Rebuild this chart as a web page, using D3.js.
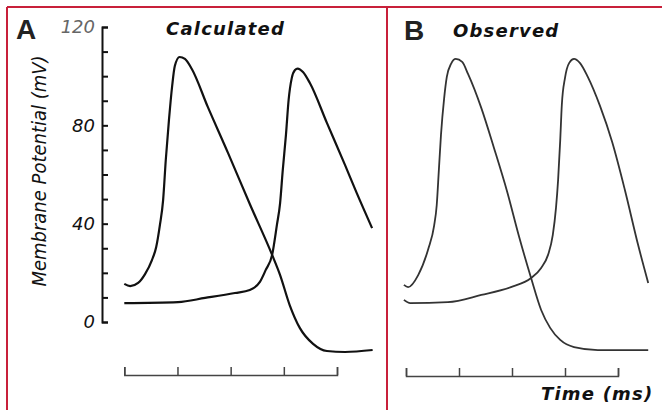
<!DOCTYPE html>
<html>
<head>
<meta charset="utf-8">
<script src="https://cdn.jsdelivr.net/npm/d3@7"></script>
</head>
<body style="margin:0">
<svg></svg>
<script>
let width = 662,
  height = 410;

// membrane potential traces, time in ms, potential in mV
let calcTime1 = [0, 0.11, 0.26, 0.39, 0.52, 0.6, 0.67, 0.73, 0.78, 0.84, 0.9, 0.95, 1.04, 1.14, 1.27, 1.57, 1.95, 2.36, 2.78, 2.93, 3.11, 3.3, 3.55, 3.81, 4.15, 4.67];
let calcV1 = [15.5, 14.6, 15.9, 19.5, 25.2, 30.5, 39.5, 49.6, 65.9, 82.2, 96, 104.1, 107.8, 107, 102.9, 87.5, 68.8, 48, 27.3, 19.1, 6.9, -2.4, -8.9, -11.8, -12.2, -11.4];

let calcTime2 = [0, 1.01, 1.52, 2.08, 2.36, 2.55, 2.66, 2.78, 2.87, 2.93, 2.98, 3.04, 3.09, 3.15, 3.21, 3.26, 3.36, 3.49, 3.81, 4.15, 4.37, 4.66];
let calcV2 = [7.7, 8.1, 9.8, 11.8, 13, 16.3, 21.2, 27.3, 39.5, 48.4, 61.8, 76.1, 90.3, 99.3, 102.5, 103.1, 101.7, 97.2, 81, 63.9, 52.5, 38.2];

let obsTime1 = [-0.04, 0.04, 0.23, 0.42, 0.53, 0.58, 0.62, 0.66, 0.72, 0.77, 0.85, 0.94, 1.06, 1.17, 1.42, 1.66, 1.91, 2.13, 2.36, 2.55, 2.72, 2.91, 3.17, 3.62, 4.57];
let obsV1 = [15.1, 14.2, 19.1, 29.7, 39.1, 47.6, 61.8, 76.1, 91.1, 99.7, 105, 107, 105.8, 100.9, 87.1, 70.8, 52.9, 35, 17.9, 4.9, -2.4, -7.3, -10.2, -11.4, -11.4];

let obsTime2 = [-0.04, 0.08, 0.79, 1.42, 1.98, 2.36, 2.55, 2.68, 2.77, 2.83, 2.87, 2.91, 2.94, 3.0, 3.08, 3.17, 3.28, 3.43, 3.66, 3.89, 4.13, 4.38, 4.57];
let obsV2 = [9, 7.7, 8.1, 11, 14.2, 17.9, 22, 27.3, 35.4, 46.4, 57.8, 74, 88.3, 99.3, 105.4, 107, 105.4, 99.7, 87.9, 73.2, 53.7, 31.3, 15.9];

let timeTicks = [0, 1, 2, 3, 4];
let voltTicks = d3.range(0, 121, 10);
let voltLabels = [0, 40, 80, 120];

let svg = d3.select("svg").attr("width", width).attr("height", height);

let yScale = d3.scaleLinear().domain([0, 120]).range([322, 27]);
let xA = d3.scaleLinear().domain([0, 4]).range([124.3, 337]);
let xB = d3.scaleLinear().domain([0, 4]).range([406, 618]);

let zip = (t, v) => t.map((d, i) => [d, v[i]]);

// red frame
let red = "#c8203a";
svg.append("line").attr("x1", 7).attr("x2", width).attr("y1", 7).attr("y2", 7)
  .attr("stroke", red).attr("stroke-width", 2);
svg.append("line").attr("x1", 7).attr("x2", 7).attr("y1", 7).attr("y2", height)
  .attr("stroke", red).attr("stroke-width", 2);
svg.append("line").attr("x1", 387).attr("x2", 387).attr("y1", 7).attr("y2", height)
  .attr("stroke", red).attr("stroke-width", 2);

// time axes (ticks pointing up)
function timeAxis(scale, y) {
  let g = svg.append("g")
    .attr("transform", "translate(0," + y + ")")
    .call(d3.axisTop(scale).tickValues(timeTicks).tickFormat("").tickSize(8).tickSizeOuter(8));
  g.selectAll("path, line").attr("stroke", "#444").attr("stroke-width", 1.5);
}
timeAxis(xA, 375);
timeAxis(xB, 376);

// traces
function trace(scale, t, v, color, w) {
  let line = d3.line()
    .x((d) => scale(d[0]))
    .y((d) => yScale(d[1]))
    .curve(d3.curveMonotoneX);
  svg.append("path")
    .datum(zip(t, v))
    .attr("d", line)
    .attr("fill", "none")
    .attr("stroke", color)
    .attr("stroke-width", w)
    .attr("stroke-linejoin", "round");
}
trace(xA, calcTime1, calcV1, "#111", 2.2);
trace(xA, calcTime2, calcV2, "#111", 2.2);
trace(xB, obsTime1, obsV1, "#333", 1.8);
trace(xB, obsTime2, obsV2, "#333", 1.8);

// y axis title
svg.append("text")
  .attr("x", 46)
  .attr("y", 171)
  .attr("transform", "rotate(-90, 46, 171)")
  .attr("text-anchor", "middle")
  .attr("font-family", "DejaVu Sans Condensed, DejaVu Sans, sans-serif")
  .attr("font-style", "italic")
  .attr("font-size", 20)
  .attr("fill", "#111")
  .text("Membrane Potential (mV)");

// panel letters and titles
svg.append("text").attr("x", 16).attr("y", 39)
  .attr("font-family", "Liberation Sans, Arial, sans-serif").attr("font-weight", "bold")
  .attr("font-size", 28).attr("fill", "#222").text("A");
svg.append("text").attr("x", 404).attr("y", 40)
  .attr("font-family", "Liberation Sans, Arial, sans-serif").attr("font-weight", "bold")
  .attr("font-size", 28).attr("fill", "#222").text("B");

let titleFont = (sel) => sel
  .attr("font-family", "DejaVu Sans, sans-serif")
  .attr("font-weight", "bold")
  .attr("font-style", "italic")
  .attr("font-size", 18)
  .attr("letter-spacing", 1.2)
  .attr("fill", "#111");

svg.append("text").attr("x", 166).attr("y", 35).call(titleFont).text("Calculated");
svg.append("text").attr("x", 453).attr("y", 37).call(titleFont).text("Observed");
svg.append("text").attr("x", 541).attr("y", 400).call(titleFont).text("Time (ms)");

// y tick labels
svg.selectAll("text.ylab")
  .data(voltLabels)
  .enter()
  .append("text")
  .attr("class", "ylab")
  .attr("x", 95)
  .attr("y", (d) => yScale(d))
  .attr("dy", "0.35em")
  .attr("text-anchor", "end")
  .attr("font-family", "DejaVu Sans, sans-serif")
  .attr("font-style", "italic")
  .attr("font-size", 18)
  .attr("fill", (d) => (d == 120 ? "#666" : "#111"))
  .text((d) => d);

// y axis last (ticks pointing right)
let yAxis = svg.append("g")
  .attr("transform", "translate(102,0)")
  .call(d3.axisRight(yScale).tickValues(voltTicks).tickFormat("").tickSize(6).tickSizeOuter(6));
yAxis.selectAll("path, line").attr("stroke", "#111").attr("stroke-width", 2);
</script>
</body>
</html>
